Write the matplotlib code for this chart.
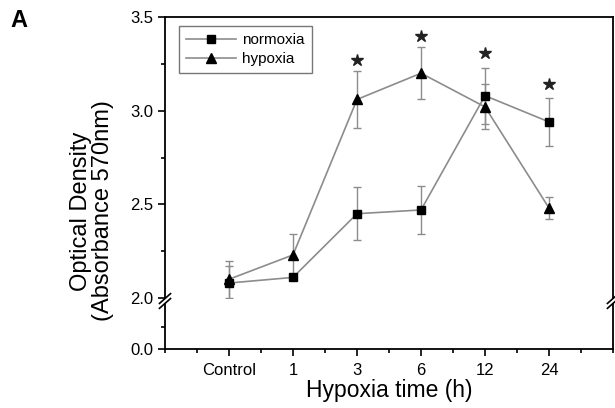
import numpy as np
import matplotlib
matplotlib.use("Agg")
import matplotlib.pyplot as plt

plt.rcParams["font.family"] = ["Liberation Sans", "DejaVu Sans"]

# data
categories = ["Control", "1", "3", "6", "12", "24"]
normoxia = [2.08, 2.11, 2.45, 2.47, 3.08, 2.94]
normoxia_err = [0.09, 0.01, 0.14, 0.13, 0.15, 0.13]
hypoxia = [2.10, 2.23, 3.06, 3.20, 3.02, 2.48]
hypoxia_err = [0.10, 0.11, 0.15, 0.14, 0.12, 0.06]
star_idx = [2, 3, 4, 5]
star_y = [3.27, 3.40, 3.31, 3.14]

x = np.arange(1, len(categories) + 1)
LINE = "#8c8c8c"

fig = plt.figure(figsize=(6.15, 4.08), dpi=100)
ax_top = fig.add_axes([0.2683, 0.2696, 0.7285, 0.6887])
ax_bot = fig.add_axes([0.2683, 0.1446, 0.7285, 0.1103], sharex=ax_top)

handles = []
for ax in (ax_top, ax_bot):
    c1 = ax.errorbar(x, normoxia, yerr=normoxia_err, color=LINE, lw=1.2,
                     capsize=3, elinewidth=1.0, capthick=1.0, marker="s", ms=6,
                     mfc="black", mec="black", label="normoxia")
    c2 = ax.errorbar(x, hypoxia, yerr=hypoxia_err, color=LINE, lw=1.2,
                     capsize=3, elinewidth=1.0, capthick=1.0, marker="^", ms=7,
                     mfc="black", mec="black", label="hypoxia")
    if ax is ax_top:
        handles = [c1[0], c2[0]]
    for s in ax.spines.values():
        s.set_linewidth(1.3)
    ax.tick_params(axis="both", which="both", direction="out", labelsize=12,
                   width=1.2)
    ax.tick_params(which="major", length=5)
    ax.tick_params(which="minor", length=3)

# significance stars
ax_top.plot(x[star_idx], star_y, ls="none", marker="*", ms=9, color="#222222")

ax_top.set_xlim(0, 7)
ax_top.set_ylim(2.0, 3.5)
ax_top.set_yticks([2.0, 2.5, 3.0, 3.5])
ax_top.set_yticks([2.25, 2.75, 3.25], minor=True)
ax_top.spines["bottom"].set_visible(False)
ax_top.tick_params(axis="x", which="both", bottom=False, labelbottom=False)

ax_bot.set_ylim(0.0, 0.24)
ax_bot.set_yticks([0.0])
ax_bot.set_yticks([0.12], minor=True)
ax_bot.yaxis.set_major_formatter(matplotlib.ticker.FormatStrFormatter("%.1f"))
ax_bot.spines["top"].set_visible(False)
ax_bot.set_xticks(x)
ax_bot.set_xticklabels(categories)
ax_bot.tick_params(axis="x", pad=5)
ax_bot.set_xticks(np.arange(0, 7.5, 0.5)[~np.isin(np.arange(0, 7.5, 0.5), x)],
                  minor=True)

ax_top.set_ylabel("Optical Density\n(Absorbance 570nm)", fontsize=17,
                  linespacing=1.0)
ax_top.yaxis.set_label_coords(-0.114, 0.31)
ax_bot.set_xlabel("Hypoxia time (h)", fontsize=16.5, labelpad=1)

# axis break marks
for xf in (0.2683, 0.9967):
    for dy in (-0.006, 0.006):
        fig.add_artist(plt.Line2D([xf - 0.009, xf + 0.009],
                                  [0.2623 + dy - 0.012, 0.2623 + dy + 0.012],
                                  color="black", lw=1.2))

leg = ax_top.legend(handles, ["normoxia", "hypoxia"], loc="upper left",
                    bbox_to_anchor=(0.031, 0.968), borderaxespad=0, fontsize=11,
                    frameon=True, fancybox=False, edgecolor="#555555",
                    handlelength=3.3, borderpad=0.45, labelspacing=0.35,
                    handletextpad=0.4)
leg.get_frame().set_linewidth(1.0)

fig.text(0.017, 0.95, "A", fontsize=17, fontweight="bold", va="center")

plt.savefig("out.png", dpi=100)
